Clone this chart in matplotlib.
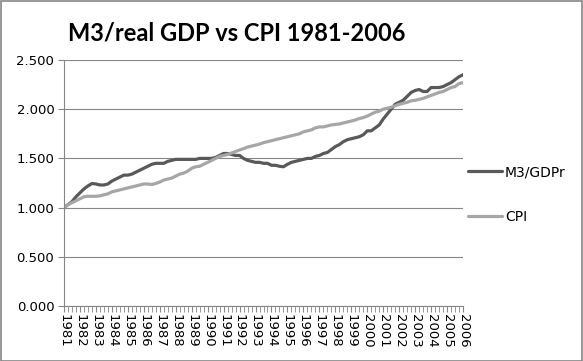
import matplotlib.pyplot as plt
from matplotlib.patches import Rectangle
from matplotlib.ticker import FixedLocator, FormatStrFormatter

years = [str(y) for y in range(1981, 2007)]

# quarterly values, 1981Q1 .. 2006Q1
m3_gdpr = [1.00, 1.03, 1.06, 1.11, 1.15, 1.19, 1.22, 1.245, 1.24, 1.23,
           1.23, 1.24, 1.27, 1.29, 1.31, 1.33, 1.33, 1.34, 1.36, 1.38,
           1.40, 1.42, 1.44, 1.45, 1.45, 1.45, 1.47, 1.48, 1.49, 1.49,
           1.49, 1.49, 1.49, 1.49, 1.50, 1.50, 1.50, 1.50, 1.51, 1.53,
           1.55, 1.55, 1.54, 1.53, 1.53, 1.50, 1.48, 1.47, 1.46, 1.46,
           1.45, 1.45, 1.43, 1.43, 1.42, 1.415, 1.44, 1.46, 1.47, 1.48,
           1.49, 1.50, 1.50, 1.52, 1.53, 1.55, 1.56, 1.59, 1.62, 1.64,
           1.67, 1.69, 1.70, 1.71, 1.72, 1.74, 1.78, 1.78, 1.81, 1.84,
           1.90, 1.95, 2.00, 2.05, 2.07, 2.09, 2.13, 2.17, 2.19, 2.20,
           2.18, 2.18, 2.22, 2.22, 2.22, 2.23, 2.25, 2.27, 2.30, 2.33,
           2.35]

cpi = [1.00, 1.03, 1.05, 1.07, 1.09, 1.11, 1.115, 1.115, 1.115, 1.12,
       1.13, 1.14, 1.16, 1.17, 1.18, 1.19, 1.20, 1.21, 1.22, 1.23,
       1.24, 1.24, 1.235, 1.245, 1.26, 1.28, 1.29, 1.30, 1.32, 1.34,
       1.35, 1.37, 1.40, 1.415, 1.42, 1.44, 1.46, 1.48, 1.50, 1.52,
       1.53, 1.54, 1.555, 1.57, 1.585, 1.60, 1.615, 1.625, 1.635, 1.645,
       1.66, 1.67, 1.68, 1.69, 1.70, 1.71, 1.72, 1.73, 1.74, 1.75,
       1.77, 1.78, 1.79, 1.81, 1.82, 1.82, 1.83, 1.84, 1.845, 1.85,
       1.86, 1.87, 1.88, 1.89, 1.905, 1.915, 1.93, 1.95, 1.97, 1.98,
       2.00, 2.01, 2.02, 2.035, 2.05, 2.06, 2.07, 2.085, 2.09, 2.10,
       2.11, 2.125, 2.14, 2.155, 2.17, 2.18, 2.20, 2.22, 2.23, 2.26,
       2.27]

yticks = [0.0, 0.5, 1.0, 1.5, 2.0, 2.5]

fig = plt.figure(figsize=(5.83, 3.61), dpi=100)
ax = fig.add_axes([64 / 583, 1 - 306 / 361, 399 / 583, 246 / 361])

x = list(range(len(m3_gdpr)))
ax.plot(x, m3_gdpr, color='#595959', lw=2.3, label='M3/GDPr', solid_capstyle='round')
ax.plot(x, cpi, color='#a6a6a6', lw=2.3, label='CPI', solid_capstyle='round')

ax.set_xlim(0, len(x) - 1)
ax.set_ylim(0, 2.5)
ax.set_yticks(yticks)
ax.yaxis.set_major_formatter(FormatStrFormatter('%.3f'))
ax.set_xticks(x[::4])
ax.set_xticklabels(years, rotation=270, fontsize=9.5)
ax.xaxis.set_minor_locator(FixedLocator(x))
ax.tick_params(axis='y', labelsize=9.5, length=4, color='#868686', pad=3)
ax.tick_params(axis='x', which='both', length=4, color='#868686', pad=2)
ax.grid(axis='y', color='#868686', lw=0.8)
ax.set_axisbelow(True)
for s in ['top', 'right']:
    ax.spines[s].set_visible(False)
for s in ['left', 'bottom']:
    ax.spines[s].set_color('#868686')
    ax.spines[s].set_linewidth(0.8)

fig.text(68 / 583, 1 - 33 / 361, 'M3/real GDP vs CPI 1981-2006', fontfamily='Lato',
         fontweight='bold', fontsize=17, va='center', ha='left')

fig.legend(loc='center left', bbox_to_anchor=(468 / 583, 1 - 194.5 / 361),
           frameon=False, fontsize=10, handlelength=2.45, handletextpad=0.2,
           labelspacing=2.2, borderpad=0, borderaxespad=0)

fig.patches.append(Rectangle((0.5 / 583, 0.5 / 361), 1 - 1.5 / 583, 1 - 1.5 / 361,
                             transform=fig.transFigure, fill=False,
                             edgecolor='#868686', lw=1.2))

fig.savefig('out.png', dpi=100)
